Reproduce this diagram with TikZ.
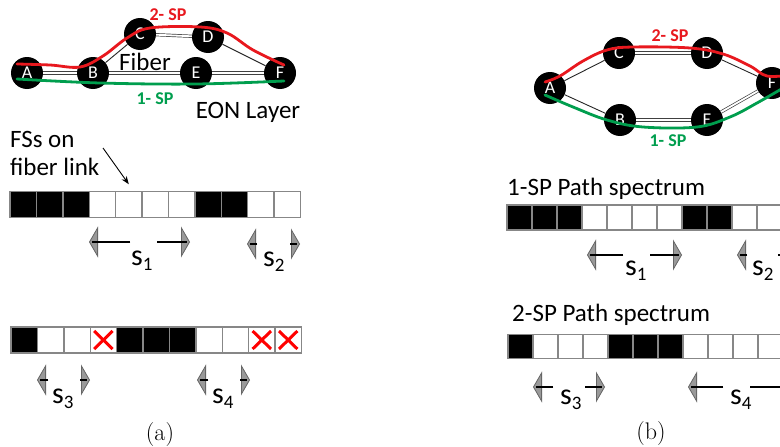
\documentclass[tikz,border=0pt]{standalone}
\usepackage{fontspec}
\newfontfamily\calfont{Carlito}
\usetikzlibrary{arrows.meta}
\definecolor{spred}{RGB}{232,24,30}
\definecolor{spgreen}{RGB}{0,158,78}
\definecolor{slotgray}{RGB}{135,135,135}
\newcommand{\slab}[1]{s\raisebox{-5pt}{\fontsize{19}{19}\selectfont #1}}
\begin{document}
\begin{tikzpicture}[x=1pt,y=-1pt,
  every node/.style={font=\calfont},
  nd/.style={circle, fill=black, minimum size=32pt, inner sep=0pt, text=white,
    font=\calfont\fontsize{18}{18}\selectfont},
  link/.style={draw=black!75, double=white, double distance=1.8pt, line width=0.7pt},
  thinlink/.style={draw=black!85, line width=0.9pt},
  sp/.style={line width=2.8pt, line cap=round},
  big/.style={font=\calfont\fontsize{25}{28}\selectfont, inner sep=0pt},
  splbl/.style={font=\calfont\bfseries\fontsize{18}{18}\selectfont, inner sep=0pt},
  slot/.style={rectangle, draw=slotgray, line width=1.4pt, inner sep=0pt, outer sep=0pt},
  fsB/.style={slot, fill=black},
  fsW/.style={slot, fill=white},
  fsX/.style={slot, fill=white, path picture={
     \draw[red, line width=3pt] ([shift={(4pt,4pt)}]path picture bounding box.south west)
        -- ([shift={(-4pt,-4pt)}]path picture bounding box.north east);
     \draw[red, line width=3pt] ([shift={(4pt,-4pt)}]path picture bounding box.north west)
        -- ([shift={(-4pt,4pt)}]path picture bounding box.south east);}},
  sarr/.style={line width=1.7pt, -{Triangle[width=31pt,length=9pt,fill=black!40,color=black!60,line width=0.8pt]},
    postaction={draw=black, line width=1.7pt, arrows=-, shorten >=3pt}},
  slabel/.style={font=\calfont\fontsize{30}{30}\selectfont, inner sep=0pt, anchor=base west},
  capt/.style={font=\rmfamily\fontsize{24}{24}\selectfont, inner sep=0pt}
]
\useasboundingbox (0,0) rectangle (780,447);
\clip (0,0) rectangle (780,447);
\fill[white] (0,0) rectangle (780,447);

% ---------------- (a) network ----------------
\node[nd] (aA) at (27,73) {A};
\node[nd] (aB) at (93,73) {B};
\node[nd] (aC) at (140,34) {C};
\node[nd] (aD) at (208,37) {D};
\node[nd] (aE) at (196,73) {E};
\node[nd] (aF) at (280,73) {F};
\draw[link] (aA) -- (aB);
\draw[link] (aB) -- (aE);
\draw[link] (aE) -- (aF);
\draw[thinlink] (aB) -- (aC);
\draw[link] (aC) -- (aD);
\draw[thinlink] (aD) -- (aF);
\draw[sp, spred] plot[smooth, tension=0.6] coordinates
  {(17,64) (50,65) (80,67) (103,56) (127,38) (150,28) (200,27) (227,33) (253,50) (284,65)};
\draw[sp, spgreen] plot[smooth, tension=0.6] coordinates
  {(17,79) (100,83) (196,84) (284,81)};
\node[splbl, text=spred] (a2sp) at (168,15) {2- SP};
\node[splbl, text=spgreen] (a1sp) at (155,99) {1- SP};
\node[big, anchor=base] (afiber) at (145,70) {Fiber};
\node[big, anchor=base] (aeon) at (248,118) {EON Layer};

% ---------------- (a) spectra ----------------
\node[big, anchor=base west] (fs1) at (10,147) {FSs on};
\node[big, anchor=base west] (fs2) at (10,175) {fiber link};
\foreach \t [count=\i] in {fsB,fsB,fsB,fsW,fsW,fsW,fsW,fsB,fsB,fsW,fsW}
  \node[\t, minimum width=26.4pt, minimum height=26.5pt] (ra\i) at ({23.2+(\i-1)*26.4},204.5) {};
\coordinate (fsA) at (103,148);
\draw[line width=0.9pt, -{Stealth[length=8pt,width=6pt]}] (fsA) -- ([yshift=7pt]ra5.north);

\foreach \t [count=\i] in {fsB,fsW,fsW,fsX,fsB,fsB,fsB,fsW,fsW,fsX,fsX}
  \node[\t, minimum width=26.4pt, minimum height=26pt] (rb\i) at ({24.2+(\i-1)*26.4},340) {};

\coordinate (s1a) at (130,242); \coordinate (s1b) at (89,242);
\coordinate (s1c) at (157,242); \coordinate (s1d) at (190,242);
\draw[sarr] (s1a) -- (s1b); \draw[sarr] (s1c) -- (s1d);
\node[slabel] (ls1) at (131,265) {\slab{1}};
\coordinate (s2a) at (257,244); \coordinate (s2b) at (247,244);
\coordinate (s2c) at (290,244); \coordinate (s2d) at (300,244);
\draw[sarr] (s2a) -- (s2b); \draw[sarr] (s2c) -- (s2d);
\node[slabel] (ls2) at (263,266) {\slab{2}};
\coordinate (s3a) at (48,380); \coordinate (s3b) at (37,380);
\coordinate (s3c) at (80,380); \coordinate (s3d) at (90,380);
\draw[sarr] (s3a) -- (s3b); \draw[sarr] (s3c) -- (s3d);
\node[slabel] (ls3) at (52,403) {\slab{3}};
\coordinate (s4a) at (208,380); \coordinate (s4b) at (197,380);
\coordinate (s4c) at (240,380); \coordinate (s4d) at (250,380);
\draw[sarr] (s4a) -- (s4b); \draw[sarr] (s4c) -- (s4d);
\node[slabel] (ls4) at (212,403) {\slab{4}};
\node[capt] (capa) at (160,435) {(a)};

% ---------------- (b) network ----------------
\node[nd] (bA) at (550,88) {A};
\node[nd] (bC) at (619,53) {C};
\node[nd] (bD) at (707,53) {D};
\node[nd] (bB) at (620,120) {B};
\node[nd] (bE) at (707,120) {E};
\node[nd] (bF) at (772,83) {F};
\draw[thinlink] (bA) -- (bC);
\draw[link] (bC) -- (bD);
\draw[thinlink] (bD) -- (bF);
\draw[thinlink] (bA) -- (bB);
\draw[link] (bB) -- (bE);
\draw[link] (bE) -- (bF);
\draw[sp, spred] plot[smooth, tension=0.6] coordinates
  {(545,82) (560,76) (583,61) (607,50) (633,47) (690,48) (723,54) (750,66) (767,76) (790,75)};
\draw[sp, spgreen] plot[smooth, tension=0.6] coordinates
  {(545,95) (573,107) (607,120) (643,127) (697,127) (730,117) (757,103) (790,84)};
\node[splbl, text=spred] (b2sp) at (670,36) {2- SP};
\node[splbl, text=spgreen] (b1sp) at (668,141) {1- SP};

% ---------------- (b) spectra ----------------
\node[big, anchor=base west] (p1) at (507,195) {1-SP Path spectrum};
\foreach \t [count=\i] in {fsB,fsB,fsB,fsW,fsW,fsW,fsW,fsB,fsB,fsW,fsW}
  \node[\t, minimum width=25pt, minimum height=25pt] (rc\i) at ({519.5+(\i-1)*25},217.5) {};
\node[big, anchor=base west] (p2) at (512,321) {2-SP Path spectrum};
\foreach \t [count=\i] in {fsB,fsW,fsW,fsW,fsB,fsB,fsB,fsW,fsW,fsW,fsW}
  \node[\t, minimum width=25pt, minimum height=24pt] (rd\i) at ({520.5+(\i-1)*25},346.5) {};

\coordinate (t1a) at (623,255); \coordinate (t1b) at (587,255);
\coordinate (t1c) at (650,255); \coordinate (t1d) at (682,255);
\draw[sarr] (t1a) -- (t1b); \draw[sarr] (t1c) -- (t1d);
\node[slabel] (lt1) at (625,275) {\slab{1}};
\coordinate (t2a) at (747,255); \coordinate (t2b) at (737,255);
\coordinate (t2c) at (778,255); \coordinate (t2d) at (790,255);
\draw[sarr] (t2a) -- (t2b); \draw[sarr] (t2c) -- (t2d);
\node[slabel] (lt2) at (752,275) {\slab{2}};
\coordinate (t3a) at (553,387); \coordinate (t3b) at (533,387);
\coordinate (t3c) at (585,387); \coordinate (t3d) at (605,387);
\draw[sarr] (t3a) -- (t3b); \draw[sarr] (t3c) -- (t3d);
\node[slabel] (lt3) at (560,404) {\slab{3}};
\coordinate (t4a) at (723,387); \coordinate (t4b) at (688,387);
\coordinate (t4c) at (750,387); \coordinate (t4d) at (800,387);
\draw[sarr] (t4a) -- (t4b); \draw[sarr] (t4c) -- (t4d);
\node[slabel] (lt4) at (730,404) {\slab{4}};
\node[capt] (capb) at (651,434) {(b)};
\end{tikzpicture}
\end{document}
